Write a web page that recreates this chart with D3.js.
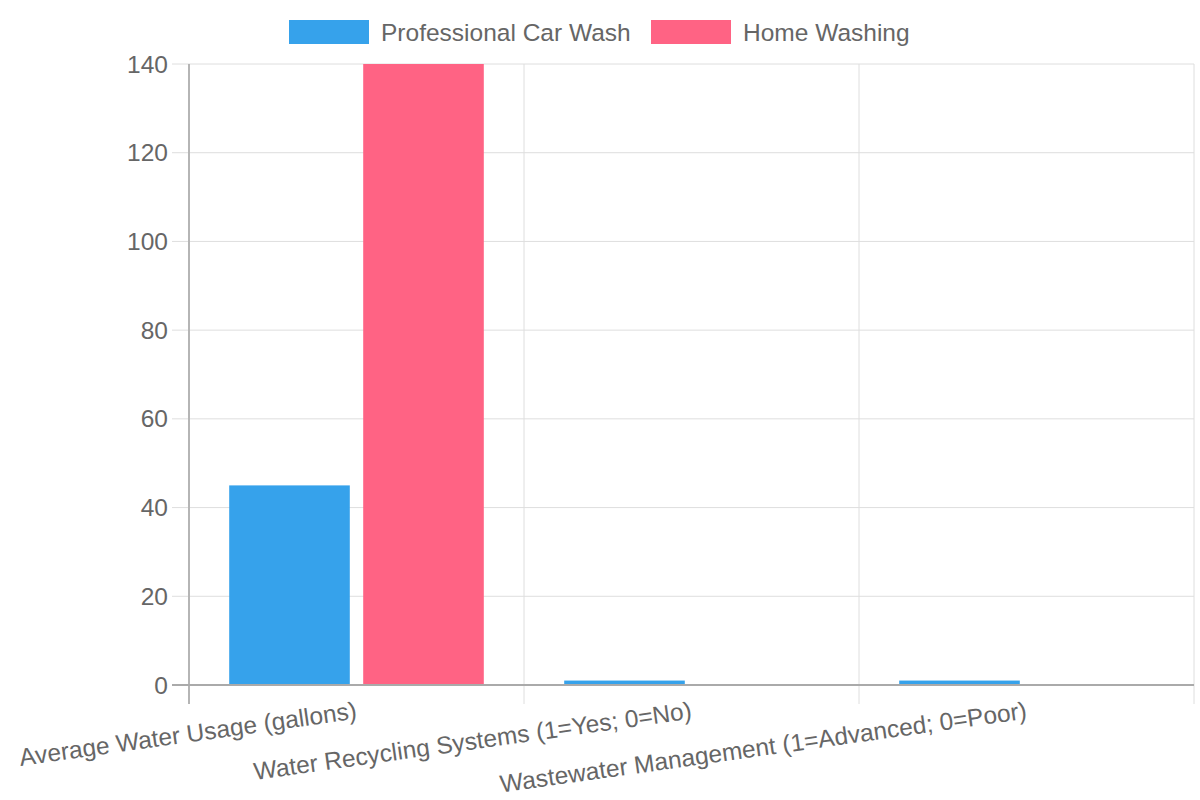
<!DOCTYPE html>
<html>
<head>
<meta charset="utf-8">
<script src="https://cdn.jsdelivr.net/npm/d3@7"></script>
<style>
  body { margin: 0; background: #fff; }
  svg { font-family: "Liberation Sans", Arial, sans-serif; }
</style>
</head>
<body>
<div id="chart"></div>
<script>
// chart data
const categories = [
  "Average Water Usage (gallons)",
  "Water Recycling Systems (1=Yes; 0=No)",
  "Wastewater Management (1=Advanced; 0=Poor)"
];
const seriesNames = ["Professional Car Wash", "Home Washing"];
const professionalValues = [45, 1, 1];
const homeValues = [140, 0, 0];
const yTicks = [0, 20, 40, 60, 80, 100, 120, 140];
const colors = ["#36a2eb", "#ff6384"];

const width = 1200, height = 800;
const margin = {top: 64, right: 6, bottom: 115, left: 189};
const innerW = width - margin.left - margin.right;
const innerH = height - margin.top - margin.bottom;
const fontSize = 24.5;

const svg = d3.select("#chart")
  .append("svg")
    .attr("width", width)
    .attr("height", height);

const g = svg.append("g")
  .attr("transform", "translate(" + margin.left + "," + margin.top + ")");

// scales
const x0 = d3.scaleBand()
  .domain(categories)
  .range([0, innerW])
  .paddingInner(0)
  .paddingOuter(0);

const x1 = d3.scaleBand()
  .domain(seriesNames)
  .range([x0.bandwidth() * 0.1, x0.bandwidth() * 0.9])
  .paddingInner(0.1)
  .paddingOuter(0.05);

const y = d3.scaleLinear()
  .domain([0, 140])
  .range([innerH, 0]);

// horizontal grid + ticks
g.selectAll(".hgrid")
  .data(yTicks)
  .enter()
  .append("line")
    .attr("x1", -17)
    .attr("x2", innerW)
    .attr("y1", d => y(d))
    .attr("y2", d => y(d))
    .attr("stroke", d => d === 0 ? "#aaa" : "#dedede")
    .attr("stroke-width", d => d === 0 ? 2 : 1);

// vertical grid lines at category edges
const edges = categories.map(c => x0(c)).concat([innerW]);
g.selectAll(".vgrid")
  .data(edges)
  .enter()
  .append("line")
    .attr("x1", d => d)
    .attr("x2", d => d)
    .attr("y1", 0)
    .attr("y2", innerH + 19)
    .attr("stroke", (d, i) => i === 0 ? "#b5b5b5" : "#dedede")
    .attr("stroke-width", (d, i) => i === 0 ? 2 : 1);

// y tick labels
g.selectAll(".ylab")
  .data(yTicks)
  .enter()
  .append("text")
    .attr("x", -21)
    .attr("y", d => y(d))
    .attr("dy", "0.35em")
    .attr("text-anchor", "end")
    .attr("font-size", fontSize)
    .attr("fill", "#666")
    .text(d => d);

// bars
const seriesValues = [professionalValues, homeValues];
seriesNames.forEach(function(name, si) {
  g.selectAll(".bar" + si)
    .data(categories)
    .enter()
    .append("rect")
      .attr("x", d => x0(d) + x1(name))
      .attr("y", (d, i) => y(seriesValues[si][i]))
      .attr("width", x1.bandwidth())
      .attr("height", (d, i) => innerH - y(seriesValues[si][i]))
      .attr("fill", colors[si]);
});

// redraw zero line on top of bars
g.append("line")
  .attr("x1", -17).attr("x2", innerW)
  .attr("y1", y(0)).attr("y2", y(0))
  .attr("stroke", "#aaa").attr("stroke-width", 2);

// x labels, rotated
g.selectAll(".xlab")
  .data(categories)
  .enter()
  .append("text")
    .attr("transform", d => "translate(" + (x0(d) + x0.bandwidth() / 2) + "," + (innerH + 25) + ") rotate(-8)")
    .attr("dy", "0.35em")
    .attr("text-anchor", "end")
    .attr("font-size", fontSize)
    .attr("fill", "#666")
    .text(d => d);

// legend
const legendX = [289, 651];
const legend = svg.selectAll(".legend")
  .data(seriesNames)
  .enter()
  .append("g")
    .attr("transform", (d, i) => "translate(" + legendX[i] + ",20)");

legend.append("rect")
  .attr("width", 80)
  .attr("height", 24)
  .attr("fill", (d, i) => colors[i]);

legend.append("text")
  .attr("x", 92)
  .attr("y", 12)
  .attr("dy", "0.35em")
  .attr("font-size", fontSize)
  .attr("fill", "#666")
  .text(d => d);
</script>
</body>
</html>
